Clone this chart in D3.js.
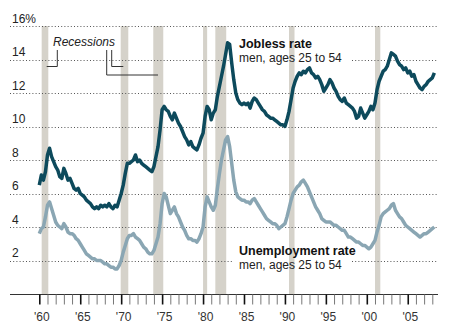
<!DOCTYPE html>
<html>
<head>
<meta charset="utf-8">
<script src="https://cdn.jsdelivr.net/npm/d3@7"></script>
<style>
  body { margin: 0; background: #fff; }
  svg { display: block; font-family: "Liberation Sans", Arial, Helvetica, sans-serif; }
</style>
</head>
<body>
<svg id="chart" width="464" height="333"></svg>
<script>
// quarterly readings, first point is Q1 1960
var startYear = 1960;

var jobless = [
  6.5, 7.1, 6.8, 7.3,   8.3, 8.7, 8.2, 7.9,   7.6, 7.4, 7.0, 6.9,   7.5, 7.2, 6.8, 6.9,
  6.6, 6.3, 6.2, 6.3,   6.0, 5.9, 5.8, 5.6,   5.5, 5.4, 5.2, 5.1,   5.2, 5.1, 5.3, 5.2,
  5.3, 5.2, 5.4, 5.2,   5.1, 5.3, 5.2, 5.6,   6.0, 6.5, 7.2, 7.8,   7.8, 7.9, 8.0, 8.3,
  7.9, 8.0, 7.8, 7.7,   7.6, 7.5, 7.4, 7.3,   7.6, 8.2, 8.8, 9.8,   11.0, 11.2, 11.0, 10.9,
  10.6, 10.4, 10.8, 10.5,   10.2, 10.0, 9.7, 9.4,   9.2, 8.9, 9.1, 8.8,   8.7, 8.6, 8.9, 9.3,
  9.6, 10.6, 11.2, 11.0,   10.4, 10.8, 11.0, 11.8,   12.4, 13.0, 13.6, 14.3,   15.0, 14.9, 13.8, 12.8,
  12.0, 11.6, 11.4, 11.3,   11.4, 11.3, 11.4, 11.1,   11.5, 11.7, 11.6, 11.4,   11.2, 11.0, 10.9, 10.7,
  10.6, 10.5, 10.5, 10.4,   10.3, 10.2, 10.1, 10.1,   10.0, 10.4, 10.9, 11.6,   12.3, 12.7, 13.0, 13.2,
  13.1, 13.3, 13.2, 13.4,   13.5, 13.2, 13.1, 12.9,   13.0, 12.8, 12.5, 12.1,   12.3, 12.5, 12.8, 12.6,
  12.3, 12.1, 11.8, 11.6,   11.5, 11.7, 11.4, 11.3,   11.2, 11.1, 10.9, 10.5,   10.6, 11.1, 10.8, 10.5,
  10.7, 10.9, 11.2, 11.0,   11.4, 12.2, 12.7, 13.0,   13.3, 13.4, 13.6, 14.0,   14.4, 14.3, 14.2, 13.9,
  13.7, 13.6, 13.4, 13.5,   13.2, 13.3, 13.0, 13.1,   12.7, 12.5, 12.3, 12.2,   12.4, 12.5, 12.7, 12.8,
  12.9, 13.2
];

var unemployment = [
  3.6, 3.9, 4.0, 4.6,   5.3, 5.5, 5.1, 4.7,   4.3, 4.1, 4.0, 3.9,   4.2, 4.0, 3.7, 3.6,
  3.6, 3.5, 3.3, 3.2,   3.0, 2.8, 2.6, 2.4,   2.3, 2.2, 2.1, 2.1,   2.0, 2.0, 2.0, 1.9,
  1.8, 1.8, 1.7, 1.6,   1.6, 1.5, 1.5, 1.7,   2.0, 2.5, 2.9, 3.3,   3.5, 3.5, 3.6, 3.4,
  3.3, 3.2, 3.0, 2.8,   2.7, 2.5, 2.4, 2.4,   2.6, 3.0, 3.4, 4.2,   5.4, 6.0, 5.8, 5.3,
  4.8, 5.0, 5.2, 4.8,   4.6, 4.3, 4.0, 3.8,   3.5, 3.3, 3.3, 3.2,   3.2, 3.1, 3.3, 3.6,
  4.0, 5.2, 5.8, 5.5,   5.2, 5.0, 5.3, 6.3,   7.2, 8.0, 8.6, 9.2,   9.4, 8.8, 7.8, 6.8,
  6.1, 5.8, 5.7, 5.6,   5.6, 5.5, 5.5, 5.4,   5.6, 5.7, 5.5, 5.3,   5.1, 4.9, 4.7, 4.5,
  4.4, 4.3, 4.2, 4.2,   4.1, 3.9, 4.0, 4.1,   4.2, 4.6, 5.1, 5.6,   6.0, 6.2, 6.4, 6.5,
  6.7, 6.8, 6.6, 6.4,   6.1, 5.8, 5.5, 5.2,   5.0, 4.8, 4.5, 4.4,   4.3, 4.3, 4.3, 4.2,
  4.1, 4.1, 4.0, 3.9,   3.8, 3.8, 3.6, 3.4,   3.4, 3.3, 3.2, 3.1,   3.1, 3.0, 2.9, 2.9,
  2.8, 2.7, 2.8, 3.0,   3.2, 3.7, 4.1, 4.6,   4.8, 4.9, 5.0, 5.1,   5.3, 5.4, 5.0, 4.8,
  4.6, 4.5, 4.3, 4.1,   4.0, 3.9, 3.8, 3.7,   3.6, 3.5, 3.4, 3.5,   3.6, 3.6, 3.7, 3.8,
  3.9, 4.0
];

var recessionStarts = [1960.29, 1969.94, 1973.92, 1980.0, 1981.5, 1990.5, 2001.0];
var recessionEnds   = [1961.1, 1970.87, 1975.14, 1980.5, 1982.83, 1991.17, 2001.65];

var yTicks = [2, 4, 6, 8, 10, 12, 14, 16];
var xTickYears = d3.range(1960, 2009);

var svg = d3.select("#chart");

var x = d3.scaleLinear().domain([1960, 2008]).range([39.3, 432.3]);
var y = d3.scaleLinear().domain([0, 16]).range([294, 26]);

var gridLeft = 10, gridRight = 437;

// recession bands
svg.append("g")
  .selectAll("rect")
  .data(recessionStarts)
  .enter()
  .append("rect")
  .attr("x", function(d) { return x(d) })
  .attr("width", function(d, i) { return x(recessionEnds[i]) - x(d) })
  .attr("y", y(16))
  .attr("height", y(0) - y(16))
  .attr("fill", "#d5d2ca")

// dotted gridlines, 14 and 2 break where the labels sit
var gaps = { 14: [233, 352], 2: [232, 352] };
var gridSegs = [];
yTicks.forEach(function(v) {
  if (gaps[v]) {
    gridSegs.push({ v: v, x1: gridLeft, x2: gaps[v][0] });
    gridSegs.push({ v: v, x1: gaps[v][1], x2: gridRight });
  } else {
    gridSegs.push({ v: v, x1: gridLeft, x2: gridRight });
  }
});

svg.append("g")
  .selectAll("line")
  .data(gridSegs)
  .enter()
  .append("line")
  .attr("x1", function(d) { return d.x1 })
  .attr("x2", function(d) { return d.x2 })
  .attr("y1", function(d) { return Math.round(y(d.v)) + 0.5 })
  .attr("y2", function(d) { return Math.round(y(d.v)) + 0.5 })
  .attr("stroke", "#555")
  .attr("stroke-width", 1)
  .attr("stroke-dasharray", "1,2.2")

svg.append("g")
  .selectAll("text")
  .data(yTicks)
  .enter()
  .append("text")
  .attr("x", 12)
  .attr("y", function(d) { return y(d) - 3.5 })
  .attr("font-size", 12)
  .attr("fill", "#222")
  .text(function(d) { return d === 16 ? "16%" : d })

// lines
var line = d3.line()
  .x(function(d, i) { return x(startYear + i / 4) })
  .y(function(d) { return y(d) })
  .curve(d3.curveLinear);

svg.append("path")
  .datum(unemployment)
  .attr("d", line)
  .attr("fill", "none")
  .attr("stroke", "#8aa6b3")
  .attr("stroke-width", 3.5)
  .attr("stroke-linejoin", "round")

svg.append("path")
  .datum(jobless)
  .attr("d", line)
  .attr("fill", "none")
  .attr("stroke", "#0d4a5c")
  .attr("stroke-width", 3.5)
  .attr("stroke-linejoin", "round")

// x axis
var xAxis = d3.axisBottom(x)
  .tickValues(xTickYears)
  .tickSize(10)
  .tickSizeOuter(0)
  .tickFormat(function(d) { return d % 5 === 0 ? "'" + String(d).slice(2) : "" });

var gx = svg.append("g")
  .attr("transform", "translate(0,294.5)")
  .call(xAxis)

gx.select(".domain")
  .attr("d", "M" + gridLeft + ",0H438")
  .attr("stroke", "#333")

gx.selectAll(".tick line")
  .attr("stroke", function(d) { return d % 5 === 0 ? "#111" : "#777" })
  .attr("stroke-width", function(d) { return d % 5 === 0 ? 1.6 : 1 })

gx.selectAll(".tick text")
  .attr("y", 26)
  .attr("dy", 0)
  .attr("x", 2)
  .attr("font-size", 12)
  .attr("font-family", "Liberation Sans, Arial, sans-serif")
  .attr("fill", "#333")

// recessions note
svg.append("text")
  .attr("x", 53)
  .attr("y", 46)
  .attr("font-size", 12)
  .attr("font-style", "italic")
  .attr("fill", "#222")
  .text("Recessions")

var leaders = [
  [[57.3, 50], [57.3, 66.5], [46.7, 66.5]],
  [[111.7, 50], [111.7, 66.5], [123.3, 66.5]],
  [[106.7, 50], [106.7, 75], [158, 75]]
];
svg.append("g")
  .selectAll("path")
  .data(leaders)
  .enter()
  .append("path")
  .attr("d", d3.line())
  .attr("fill", "none")
  .attr("stroke", "#333")
  .attr("stroke-width", 1)

// series labels
function label(xp, yp, title, sub) {
  svg.append("text")
    .attr("x", xp).attr("y", yp)
    .attr("font-size", 12.5)
    .attr("font-weight", "bold")
    .attr("fill", "#111")
    .text(title)
  svg.append("text")
    .attr("x", xp).attr("y", yp + 14)
    .attr("font-size", 12)
    .attr("fill", "#222")
    .text(sub)
}
label(239, 48, "Jobless rate", "men, ages 25 to 54");
label(239, 255, "Unemployment rate", "men, ages 25 to 54");
</script>
</body>
</html>
